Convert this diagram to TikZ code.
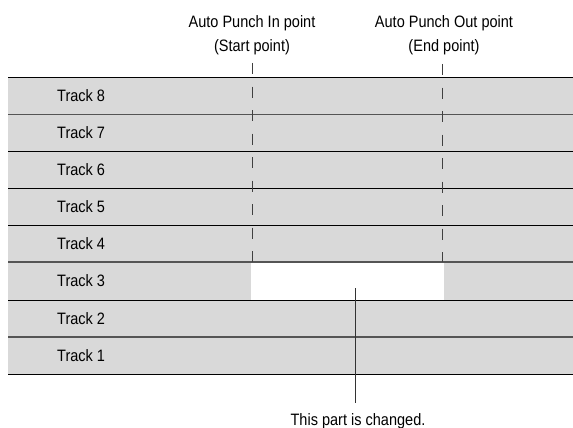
\documentclass[tikz,border=0pt]{standalone}
\usepackage{fontspec}
\setmainfont{Liberation Sans}[FakeStretch=0.88]
\definecolor{trackgray}{HTML}{D9D9D9}
\definecolor{linegray}{HTML}{555555}
\begin{document}
\begin{tikzpicture}[x=1pt,y=-1pt,
  rowfill/.style={fill=trackgray,draw=none},
  rowline/.style={draw=black,line width=0.9pt},
  rowlinegray/.style={draw=linegray,line width=1.1pt},
  tracklabel/.style={anchor=base west,inner sep=0pt,font=\fontsize{16.5}{20}\selectfont},
  toplabel/.style={anchor=base,inner sep=0pt,font=\fontsize{16.5}{20}\selectfont},
  punchline/.style={draw=black!75,line width=1pt,dash pattern=on 11pt off 12.5pt},
  pointer/.style={draw=black!80,line width=0.9pt}]
\useasboundingbox (0,0) rectangle (573,428);
% track band
\fill[rowfill] (8,77) rectangle (573,374);
\fill[white] (251,262) rectangle (444,300);
% row separators
\foreach \y/\s in {77/rowline,114.1/rowlinegray,151.2/rowline,188.4/rowline,225.5/rowline,262/rowlinegray,300/rowline,337/rowlinegray,374.5/rowline}
  \draw[\s] (8,\y) -- (573,\y);
% track labels
\foreach \n/\y in {8/95.5,7/132.6,6/169.8,5/206.9,4/244,3/281,2/318.5,1/355.8}
  \node[tracklabel] (track\n) at (57,\y+5.8) {Track \n};
% punch points
\coordinate (inTop) at (252,63);
\coordinate (inBot) at (252,262);
\coordinate (outTop) at (442,64);
\coordinate (outBot) at (442,262);
\draw[punchline] (inTop) -- (inBot);
\draw[punchline] (outTop) -- (outBot);
\node[toplabel] (inlabel) at (252,27.3) {Auto Punch In point};
\node[toplabel] (inlabel2) at (252,51.7) {(Start point)};
\node[toplabel] (outlabel) at (444,27.3) {Auto Punch Out point};
\node[toplabel] (outlabel2) at (444,51.7) {(End point)};
% changed part
\coordinate (chgTop) at (355.7,288);
\coordinate (chgBot) at (355.7,403);
\draw[pointer] (chgTop) -- (chgBot);
\node[toplabel] (note) at (358,425.5) {This part is changed.};
\end{tikzpicture}
\end{document}
